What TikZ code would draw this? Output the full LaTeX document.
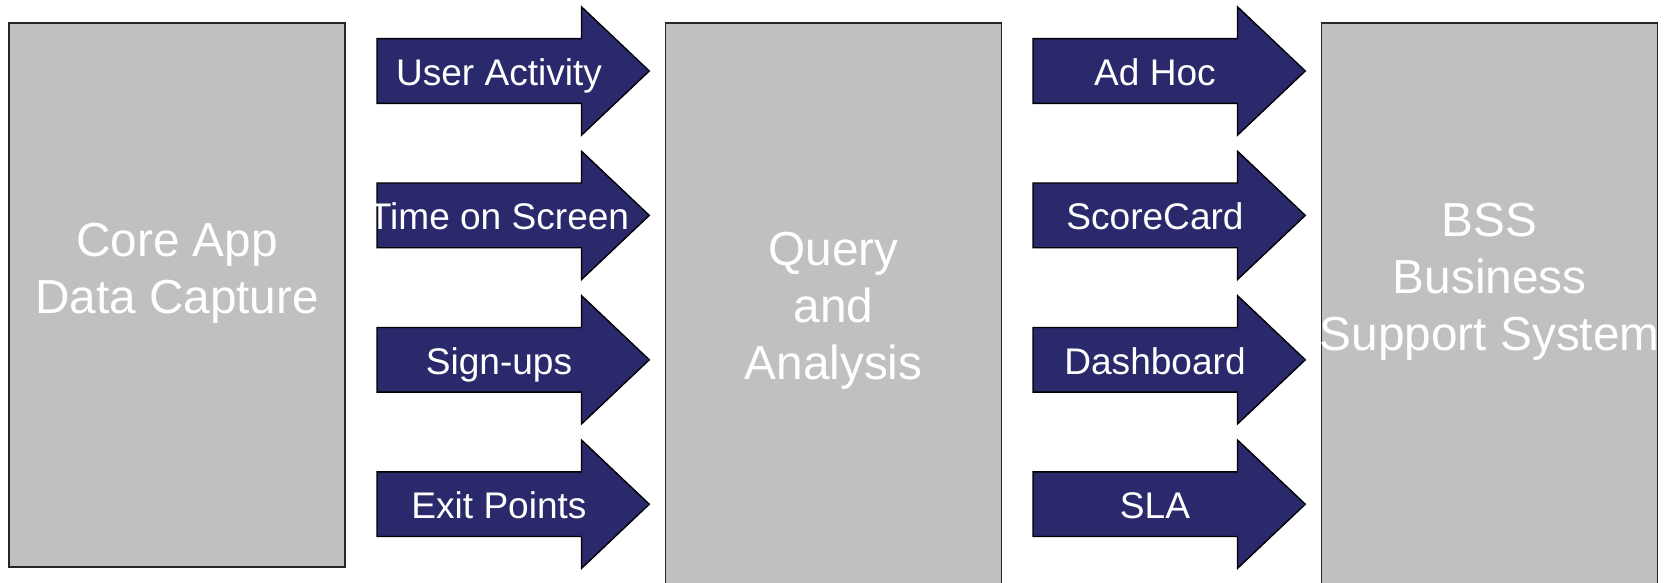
\documentclass[tikz,border=0pt]{standalone}
\usepackage{fontspec}
\setmainfont{Liberation Sans}
\definecolor{panelgray}{RGB}{192,192,192}
\definecolor{flownavy}{RGB}{41,41,107}
\tikzset{
  panel/.style={draw=black!85, line width=1.1pt, fill=panelgray, rectangle,
    inner sep=0pt, minimum width=252pt},
  % base anchor of a multi-line label sits on its last line
  paneltext/.style={text=white, align=center, anchor=base, inner sep=0pt,
    font=\fontsize{35.8pt}{42.6pt}\selectfont},
  flowarrow/.style={draw=black, line width=1pt, fill=flownavy, line join=miter},
  flowlabel/.style={text=white, anchor=base, inner sep=0pt,
    font=\fontsize{27.8pt}{32pt}\selectfont},
  flow/.pic={
    \draw[flowarrow] (0,-32.35) -- (204.5,-32.35) -- (204.5,-64.2) -- (272.3,0)
      -- (204.5,64.2) -- (204.5,32.35) -- (0,32.35) -- cycle;
  }
}
\begin{document}
\begin{tikzpicture}[x=0.75pt, y=-0.75pt]
\useasboundingbox (0,0) rectangle (1666,582);
\clip (0,0) rectangle (1666,582);

% the three stages
\node[panel, minimum height=408pt] (core) at (177,295) {};
\node[panel, minimum height=432.75pt] (query) at (833.5,311.5) {};
\node[panel, minimum height=432.75pt] (bss) at (1489.7,311.5) {};

\node[paneltext] (coretext) at (177,313.5) {Core App\\Data Capture};
\node[paneltext] (querytext) at (833.5,379) {Query\\and\\Analysis};
\node[paneltext] (bsstext) at (1489.7,350.5) {BSS\\Business\\Support System};

% feeds into query and analysis
\foreach \yy/\txt [count=\i] in {71/User Activity, 215.4/Time on Screen,
    359.8/Sign-ups, 504.2/Exit Points} {
  \coordinate (in\i) at (377,\yy);
  \pic at (in\i) {flow};
  \node[flowlabel] (inlabel\i) at ([xshift=122*0.75pt, yshift=-14.3*0.75pt]in\i) {\txt};
}

% outputs to the business support system
\foreach \yy/\txt [count=\i] in {71/Ad Hoc, 215.4/ScoreCard,
    359.8/Dashboard, 504.2/SLA} {
  \coordinate (out\i) at (1033,\yy);
  \pic at (out\i) {flow};
  \node[flowlabel] (outlabel\i) at ([xshift=122*0.75pt, yshift=-14.3*0.75pt]out\i) {\txt};
}
\end{tikzpicture}
\end{document}
